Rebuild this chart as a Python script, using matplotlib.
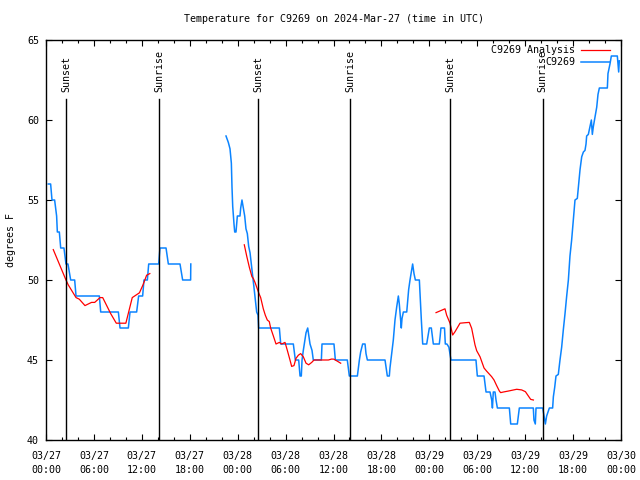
import numpy as np
import matplotlib
matplotlib.use("Agg")
import matplotlib.pyplot as plt

# hours since 2024-03-27 00:00 UTC, temperature in F
# station obs (blue), gaps marked with nan
obs_hours = [0.29, 0.58, 0.75, 1.08, 1.33, 1.42, 1.67, 1.84, 2.25, 2.5, 2.75, 3.09, 3.59, 3.76,
             6.68, 6.85, 9.06, 9.27, 10.31, 10.52, 11.35, 11.6, 12.1, 12.27, 12.69, 12.86,
             14.11, 14.27, 15.03, 15.32, 16.78, 17.11, 18.11, 18.13,
             np.nan,
             22.54, 22.83, 23.04, 23.21, 23.29, 23.38, 23.54, 23.63, 23.79, 23.88, 23.96, 24.29,
             24.38, 24.54, 24.71, 24.88, 25.04, 25.21, 25.38, 25.55, 25.71, 25.88, 26.05, 26.21,
             26.38, 26.55, 26.63, 29.22, 29.39, 30.97, 31.22, 31.64, 31.81, 31.97, 32.06, 32.22,
             32.56, 32.77, 33.06, 33.31, 33.47, 34.48, 34.56, 36.06, 36.23, 37.73, 37.98, 38.99,
             39.24, 39.4, 39.65, 39.95, 40.07, 40.24, 42.45, 42.74, 42.99, 43.07, 43.28, 43.49,
             43.7, 43.91, 44.12, 44.24, 44.49, 44.58, 44.75, 45.17, 45.41, 45.58, 45.91, 46.08,
             46.25, 46.75, 47.0, 47.17, 47.67, 48.0, 48.25, 48.5, 49.25, 49.36, 49.45, 49.9,
             50.0, 50.2, 50.45, 50.71, 53.84, 54.01, 54.85, 55.1, 55.6, 55.81, 55.9, 56.01,
             56.22, 56.35, 56.52, 58.02, 58.19, 59.02, 59.27, 61.02, 61.1, 61.27, 61.36, 62.2,
             62.36, 62.53, 62.69, 63.03, 63.44, 63.53, 63.7, 63.86, 64.15, 64.36, 64.57, 64.78,
             64.99, 65.2, 65.41, 65.61, 65.82, 66.03, 66.16, 66.24, 66.53, 66.66, 66.87, 67.08,
             67.29, 67.49, 67.62, 67.7, 67.91, 68.12, 68.29, 68.41, 68.54, 68.75, 68.96, 69.12,
             69.29, 70.29, 70.37, 70.62, 70.79, 71.54, 71.62, 71.71, 71.79]
obs_temp = [56, 56, 55, 55, 54, 53, 53, 52, 52, 51, 51, 50, 50, 49,
            49, 48, 48, 47, 47, 48, 48, 49, 49, 50, 50, 51,
            51, 52, 52, 51, 51, 50, 50, 51,
            np.nan,
            59, 58.6, 58.2, 57.3, 55.8, 54.6, 53.5, 53, 53, 53.5, 54, 54,
            54.5, 55, 54.5, 54, 53.2, 52.9, 52.1, 51.7, 51.0, 50.2, 49.5, 48.75,
            48.0, 47.8, 47, 47, 46, 46, 45, 45, 44, 44, 45, 45.6,
            46.7, 47, 46, 45.6, 45, 45, 46, 46, 45, 45, 44, 44,
            45, 45.5, 46, 46, 45.4, 45, 45, 44, 44, 44.5, 45.4, 46.25,
            47.5, 48.3, 49, 48.5, 47, 47.6, 48, 48, 49.4, 50, 51, 50.4,
            50, 50, 47.5, 46, 46, 47, 47, 46, 46, 46.5, 47, 47,
            46, 46, 45.8, 45, 45, 44, 44, 43, 43, 42.5, 42, 43,
            43, 42.5, 42, 42, 41, 41, 42, 42, 41.25, 41, 42, 42,
            41.5, 41, 41.5, 42, 42, 42.7, 43.3, 44, 44.1, 45, 45.8, 46.9,
            47.9, 49.0, 50.0, 51.5, 52.5, 53.75, 54.6, 55, 55.1, 55.8, 56.9, 57.7,
            58, 58.1, 58.5, 59, 59.1, 59.6, 60, 59.1, 59.6, 60.2, 60.8, 61.6,
            62, 62, 62.9, 63.5, 64, 64, 63.5, 63, 63.7]

# analysis (red)
ana_hours = [0.91, 2.5, 2.78, 3.76, 4.17, 4.88, 5.7, 6.1, 6.76, 7.1, 8.1, 8.8, 10.0, 10.4,
             10.8, 11.7, 12.15, 12.6, 13.0,
             np.nan,
             24.83, 25.13, 25.46, 25.79, 25.96, 26.21, 26.63, 26.88, 27.21, 27.46, 27.71, 27.96,
             28.13, 28.47, 28.8, 29.22, 29.51, 29.93, 30.22, 30.55, 30.76, 31.05, 31.3, 31.6,
             31.89, 32.22, 32.56, 32.89, 33.27, 33.56, 34.73, 35.36, 35.77, 36.06, 36.4, 36.9,
             np.nan,
             48.84, 49.96, 50.17, 50.59, 50.92, 51.22, 51.84, 52.47, 53.01, 53.3, 53.51, 53.72,
             53.93, 54.35, 54.85, 55.18, 55.8, 56.1, 56.43, 56.77, 56.93, 57.27, 57.9, 58.94,
             59.56, 60.03, 60.4, 60.69, 61.03]
ana_temp = [51.9, 50.0, 49.7, 48.9, 48.8, 48.4, 48.6, 48.6, 48.9, 48.9, 47.9, 47.3, 47.3, 48.1,
            48.9, 49.2, 49.7, 50.3, 50.4,
            np.nan,
            52.2, 51.5, 50.8, 50.2, 50.1, 49.8, 49.2, 48.9, 48.2, 47.8, 47.5, 47.4,
            47.0, 46.5, 46.0, 46.1, 46.0, 46.1, 45.6, 45.0, 44.6, 44.65, 45.1, 45.3,
            45.4, 45.2, 44.8, 44.7, 44.85, 45.0, 45.0, 45.0, 45.06, 45.05, 44.95, 44.8,
            np.nan,
            47.96, 48.2, 47.8, 47.3, 46.56, 46.77, 47.3, 47.33, 47.35, 46.98, 46.46, 45.94,
            45.58, 45.2, 44.5, 44.3, 43.96, 43.75, 43.4, 43.06, 42.96, 43.0, 43.06, 43.17,
            43.13, 43.02, 42.75, 42.54, 42.5]

sun_hours = [2.5, 14.15, 26.6, 38.1, 50.6, 62.2]
sun_names = ["Sunset", "Sunrise", "Sunset", "Sunrise", "Sunset", "Sunrise"]

xtick_hours = list(range(0, 73, 6))
xtick_labels = ["03/27\n00:00", "03/27\n06:00", "03/27\n12:00", "03/27\n18:00",
                "03/28\n00:00", "03/28\n06:00", "03/28\n12:00", "03/28\n18:00",
                "03/29\n00:00", "03/29\n06:00", "03/29\n12:00", "03/29\n18:00",
                "03/30\n00:00"]
ytick_vals = [40, 45, 50, 55, 60, 65]

font = "DejaVu Sans Mono"
fs = 7.2
plt.rcParams['font.family'] = font
plt.rcParams['font.size'] = fs

fig = plt.figure(figsize=(6.4, 4.8), dpi=100)
ax = fig.add_axes([46/640, 40/480, 575/640, 400/480])

blue = '#0b84ff'
ax.plot(obs_hours, obs_temp, color=blue, lw=1.1)
ax.plot(ana_hours, ana_temp, color='#ff0000', lw=0.9)

for h, name in zip(sun_hours, sun_names):
  ax.plot([h, h], [40, 61.3], color='black', lw=1.0)
  ax.text(h, 61.75, name, rotation=90, ha='center', va='bottom', fontsize=fs)

ax.set_xlim(0, 72)
ax.set_ylim(40, 65)
ax.set_xticks(xtick_hours)
ax.set_xticklabels(xtick_labels, linespacing=1.5)
ax.set_xticks(range(0, 73, 2), minor=True)
ax.set_yticks(ytick_vals)
ax.tick_params(axis='both', which='major', direction='in', length=4, width=0.8,
               top=True, right=True, labelsize=fs, pad=5)
ax.tick_params(axis='x', which='major', pad=8)
ax.tick_params(axis='x', which='minor', direction='in', length=2.2, width=0.8, top=True)
for s in ax.spines.values():
  s.set_linewidth(1.0)

# legend drawn by hand (right-aligned text like gnuplot)
ax.text(0.92, 0.975, "C9269 Analysis", transform=ax.transAxes, ha='right', va='center', fontsize=fs)
ax.text(0.92, 0.945, "C9269", transform=ax.transAxes, ha='right', va='center', fontsize=fs)
ax.plot([0.930, 0.981], [0.975, 0.975], color='#ff0000', lw=0.9, transform=ax.transAxes)
ax.plot([0.930, 0.981], [0.945, 0.945], color=blue, lw=1.1, transform=ax.transAxes)

fig.text(333.5/640, 1 - 19/480, "Temperature for C9269 on 2024-Mar-27 (time in UTC)",
         ha='center', va='center', fontsize=fs)
fig.text(11/640, 0.5, "degrees F", rotation=90, ha='center', va='center', fontsize=fs)

plt.savefig("out.png", dpi=100)
